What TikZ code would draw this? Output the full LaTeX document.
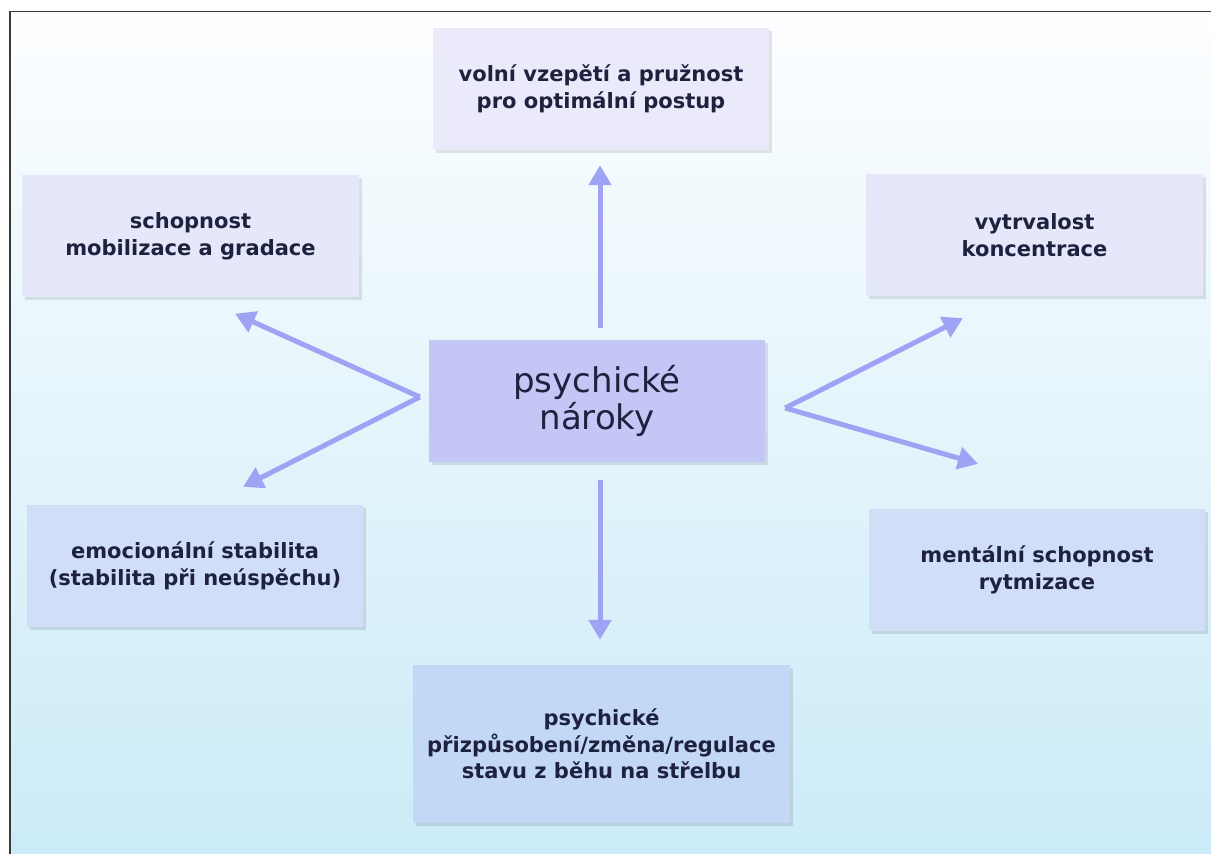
\documentclass[tikz,border=0pt]{standalone}
\usepackage{fontspec}
\setmainfont{DejaVu Sans}
\usetikzlibrary{arrows.meta,calc,shadows}
\definecolor{frame_color}{RGB}{58,58,58}
\definecolor{bg_top}{RGB}{253,254,255}
\definecolor{bg_bottom}{RGB}{203,235,248}
\definecolor{text_color}{RGB}{30,34,62}
\definecolor{arrow_color}{RGB}{160,163,243}
\definecolor{top_color}{RGB}{234,234,251}
\definecolor{upper_color}{RGB}{229,231,250}
\definecolor{centre_color}{RGB}{196,199,245}
\definecolor{lower_color}{RGB}{208,222,248}
\definecolor{bottom_color}{RGB}{195,215,246}
\tikzset{
  item/.style={
    draw=none, minimum width=336pt, minimum height=122pt,
    align=center, text=text_color,
    font=\bfseries\fontsize{21}{26.5}\selectfont,
    drop shadow={shadow xshift=3pt, shadow yshift=-3pt, opacity=0.10, fill=black}
  },
  hub/.style={
    item, fill=centre_color,
    font=\fontsize{34}{37}\selectfont
  },
  link/.style={
    draw=arrow_color, line width=5pt,
    -{Triangle[length=20pt, width=22pt]}
  }
}

\begin{document}
\begin{tikzpicture}[x=1pt, y=1pt]

\useasboundingbox (0,0) rectangle (1211,854);
\shade[top color=bg_top, bottom color=bg_bottom] (10,842.5) rectangle (1211,0);
\draw[frame_color, line width=1.8pt] (10,0) -- (10,842.5) -- (1211,842.5);

\node[hub] (centre) at (597,453) {psychické\\nároky};

\node[item, fill=top_color] (vzepeti) at (601,765) {volní vzepětí a pružnost\\pro optimální postup};
\node[item, fill=upper_color, minimum width=337pt] (mobil) at (190.5,617.5) {schopnost\\mobilizace a gradace};
\node[item, fill=upper_color, minimum width=337pt] (koncentr) at (1034.5,619) {vytrvalost\\koncentrace};
\node[item, fill=lower_color] (emoc) at (195,288) {emocionální stabilita\\(stabilita při neúspěchu)};
\node[item, fill=lower_color] (rytm) at (1037,284) {mentální schopnost\\rytmizace};
\node[item, fill=bottom_color, minimum width=377pt, minimum height=158pt] (zmena) at (601.5,110) {psychické\\přizpůsobení/změna/regulace\\stavu z běhu na střelbu};

% forks and free ends
\coordinate (left_fork) at ($(centre.west) + (-9, 4)$);
\coordinate (right_fork) at ($(centre.east) + (20, -7)$);
\coordinate (mobil_tip) at ($(mobil.south) + (44.5, -16)$);
\coordinate (emoc_tip) at ($(emoc.north) + (48, 18)$);
\coordinate (koncentr_tip) at ($(koncentr.south) + (-71.5, -22)$);
\coordinate (rytm_tip) at ($(rytm.north) + (-59, 45)$);

\draw[link] ($(centre.north) + (3, 12)$) -- ($(vzepeti.south) + (-1, -15)$);
\draw[link] ($(centre.south) + (3, -18)$) -- ($(zmena.north) + (-1.5, 25)$);
\draw[link] (left_fork) -- (mobil_tip);
\draw[link] (left_fork) -- (emoc_tip);
\draw[link] (right_fork) -- (koncentr_tip);
\draw[link] (right_fork) -- (rytm_tip);

\end{tikzpicture}
\end{document}
